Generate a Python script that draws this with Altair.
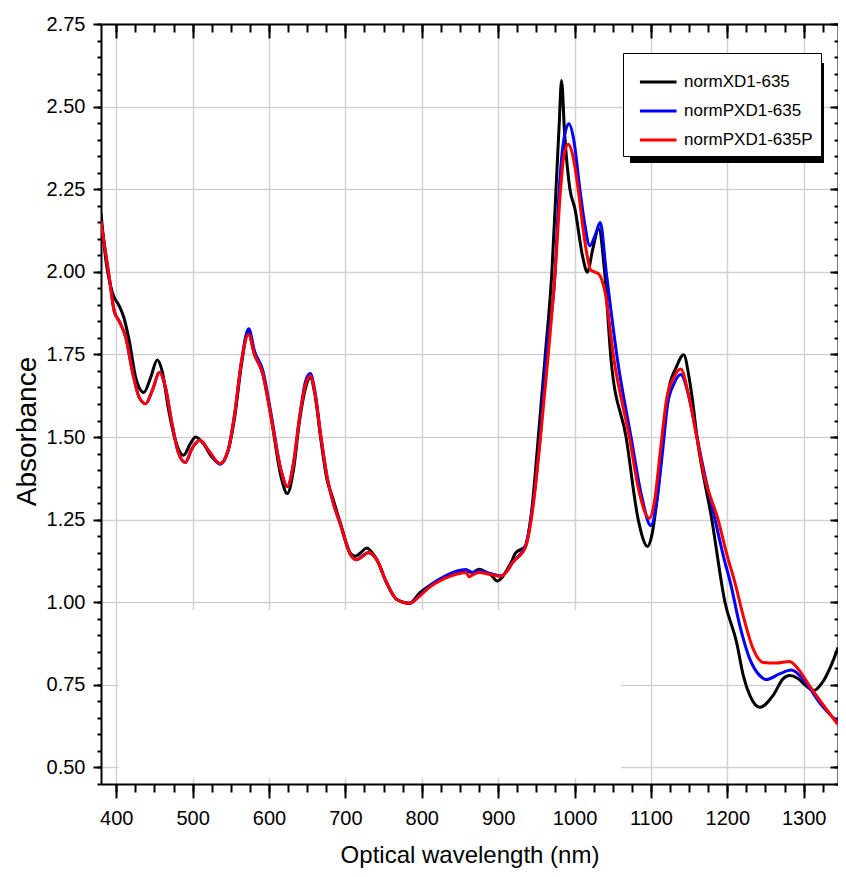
import altair as alt
import pandas as pd

names = ["normXD1-635", "normPXD1-635", "normPXD1-635P"]
colors = ["#000000", "#0000ff", "#ff0000"]

wl_black = [380, 386.6, 395, 404, 410, 417, 425.5, 436, 445, 453.6, 460, 468.7, 477.4, 488, 497, 504, 514, 525, 536,
            546.5, 555, 564, 572.5, 581, 592, 602.7, 615.7, 624, 632, 640, 648, 654, 660, 668, 676, 683, 693.5, 706.5,
            713, 720, 728, 735, 741, 754, 767, 784, 797, 810, 828, 845, 858, 866, 875, 885, 890, 899, 905, 912, 918,
            922.6, 935.6, 944, 952.6, 961.6, 970.2, 975.8, 980, 983, 987, 994, 1000.4, 1011, 1016.8, 1024, 1031.6,
            1039.4, 1048, 1067.5, 1083.6, 1095.6, 1101, 1108.5, 1117, 1124, 1133, 1143, 1150, 1154, 1160.4, 1179.8,
            1197, 1212.3, 1221, 1229.6, 1242.6, 1260, 1273, 1281.6, 1292, 1302.7, 1313.5, 1324.8, 1337.7, 1345]
ab_black = [2.177, 2.032, 1.936, 1.896, 1.861, 1.791, 1.68, 1.635, 1.68, 1.733, 1.70, 1.58, 1.49, 1.445, 1.48, 1.50,
            1.48, 1.44, 1.42, 1.46, 1.56, 1.72, 1.819, 1.75, 1.69, 1.56, 1.38, 1.329, 1.40, 1.55, 1.65, 1.68, 1.63,
            1.49, 1.37, 1.319, 1.239, 1.149, 1.139, 1.15, 1.164, 1.15, 1.13, 1.059, 1.009, 0.997, 1.028, 1.05, 1.074,
            1.09, 1.095, 1.09, 1.10, 1.09, 1.084, 1.064, 1.075, 1.10, 1.125, 1.149, 1.169, 1.278, 1.5, 1.746, 1.994,
            2.25, 2.45, 2.579, 2.42, 2.25, 2.192, 2.042, 1.999, 2.07, 2.13, 2.0, 1.73, 1.5, 1.248, 1.169, 1.2, 1.32,
            1.52, 1.65, 1.71, 1.749, 1.68, 1.62, 1.50, 1.25, 1.0, 0.878, 0.778, 0.718, 0.682, 0.718, 0.768, 0.778,
            0.77, 0.748, 0.733, 0.758, 0.818, 0.863]

wl_blue = [380, 391, 397.4, 404, 412.6, 421, 430, 438.5, 447, 456.7, 464.4, 473, 481.7, 490.4, 499, 509.8, 520.6, 536,
           546.5, 555, 564, 573.4, 581, 592, 602.7, 615.7, 624, 632, 640, 648, 654, 660, 668, 676, 683, 693.5, 706.5,
           715, 722, 730, 741, 754, 767, 784, 797, 810, 828, 845, 858, 866, 875, 890, 903, 912, 918.4, 935.6, 944,
           955, 963, 974.5, 980, 986, 992.7, 999, 1007, 1013, 1020, 1027, 1033.7, 1041.5, 1056.5, 1074, 1088, 1100,
           1108, 1115, 1122, 1130, 1139, 1150, 1160.4, 1172, 1184, 1196, 1204, 1216.6, 1229.6, 1242.6, 1251, 1268.4,
           1283.6, 1299, 1308, 1320.6, 1345]
ab_blue = [2.152, 1.98, 1.88, 1.85, 1.80, 1.70, 1.62, 1.601, 1.64, 1.695, 1.65, 1.54, 1.45, 1.423, 1.465, 1.49, 1.46,
           1.418, 1.46, 1.57, 1.73, 1.828, 1.76, 1.70, 1.57, 1.40, 1.35, 1.42, 1.56, 1.67, 1.692, 1.64, 1.50, 1.38,
           1.31, 1.235, 1.145, 1.129, 1.14, 1.15, 1.129, 1.059, 1.009, 0.997, 1.02, 1.049, 1.076, 1.094, 1.099, 1.09,
           1.095, 1.087, 1.08, 1.095, 1.119, 1.17, 1.27, 1.5, 1.746, 1.994, 2.25, 2.40, 2.448, 2.40, 2.25, 2.15,
           2.079, 2.11, 2.149, 2.0, 1.73, 1.5, 1.32, 1.232, 1.31, 1.45, 1.6, 1.66, 1.689, 1.62, 1.5, 1.37, 1.25, 1.13,
           1.06, 0.928, 0.828, 0.778, 0.766, 0.783, 0.795, 0.768, 0.74, 0.697, 0.637]

wl_red = [380, 391, 397.4, 404, 412.6, 421, 430, 438.5, 447, 456.7, 464.4, 473, 481.7, 490.4, 499, 509.8, 520.6, 536,
          546.5, 555, 564, 573.4, 581, 592, 602.7, 615.7, 624, 632, 640, 648, 654, 660, 668, 676, 683, 693.5, 706.5,
          715, 722, 730.3, 741, 754, 767, 784, 797, 810, 828, 845, 858, 862, 866, 875, 890, 903, 912, 918.4, 935.6,
          944, 955.5, 965.5, 974.5, 981.8, 986, 991.8, 998, 1004.8, 1013, 1021.3, 1031.6, 1039.4, 1052, 1071.8, 1085,
          1098, 1105, 1112, 1121, 1130, 1139, 1150, 1160, 1170, 1188, 1200, 1210, 1221, 1234, 1247, 1264, 1281.6,
          1294.5, 1307.5, 1345]
ab_red = [2.152, 1.98, 1.88, 1.85, 1.80, 1.70, 1.62, 1.601, 1.64, 1.695, 1.65, 1.54, 1.45, 1.423, 1.465, 1.49, 1.46,
          1.42, 1.46, 1.57, 1.73, 1.81, 1.75, 1.69, 1.56, 1.40, 1.35, 1.42, 1.56, 1.66, 1.685, 1.635, 1.50, 1.38,
          1.31, 1.235, 1.145, 1.129, 1.138, 1.151, 1.129, 1.059, 1.009, 0.997, 1.018, 1.045, 1.07, 1.085, 1.09,
          1.077, 1.082, 1.09, 1.084, 1.079, 1.095, 1.119, 1.165, 1.26, 1.5, 1.746, 1.994, 2.25, 2.35, 2.386, 2.35,
          2.25, 2.10, 2.005, 1.994, 1.945, 1.73, 1.5, 1.33, 1.254, 1.31, 1.45, 1.62, 1.68, 1.706, 1.62, 1.5, 1.38,
          1.25, 1.14, 1.06, 0.958, 0.858, 0.818, 0.816, 0.821, 0.793, 0.748, 0.630]

x_major = [400, 500, 600, 700, 800, 900, 1000, 1100, 1200, 1300]
x_minor = [400 + 25 * i for i in range(38)]
y_major = [0.50, 0.75, 1.00, 1.25, 1.50, 1.75, 2.00, 2.25, 2.50, 2.75]
y_minor = [round(0.45 + 0.05 * i, 2) for i in range(47)]

frames = []
for n, w, a in [(names[0], wl_black, ab_black), (names[1], wl_blue, ab_blue), (names[2], wl_red, ab_red)]:
    frames.append(pd.DataFrame({"series": n, "wl": w, "ab": a}))
df = pd.concat(frames, ignore_index=True)

W, H = 737, 760
SANS = "Liberation Sans, Arial, Helvetica"

xs = alt.Scale(domain=[380, 1345], nice=False, zero=False)
ys = alt.Scale(domain=[0.45, 2.75], nice=False, zero=False)

common = dict(domainColor="black", domainWidth=2, tickColor="black", tickWidth=2)

x_main = alt.Axis(orient="bottom", values=x_major, format="d", tickSize=14, labelFont=SANS, labelFontSize=20,
                  labelColor="black", labelPadding=10, labelOverlap=False, labelFlush=False,
                  grid=True, gridColor="#d2d2d2", gridWidth=1.5,
                  title="Optical wavelength (nm)", titleFont=SANS, titleFontSize=24, titleFontWeight="normal",
                  titleColor="black", titleY=78, titleBaseline="alphabetic", **common)
y_main = alt.Axis(orient="left", values=y_major, format=".2f", tickSize=8, labelFont=SANS, labelFontSize=20,
                  labelColor="black", labelPadding=8, labelOverlap=False, labelFlush=False,
                  grid=True, gridColor="#d2d2d2", gridWidth=1.5,
                  title="Absorbance", titleFont=SANS, titleFontSize=28, titleFontWeight="normal",
                  titleColor="black", titleX=-74, titleY=407, titleAngle=270, titleAlign="center",
                  titleBaseline="middle", **common)

legend = alt.Legend(orient="none", legendX=522, legendY=29, title=" ", titleFontSize=6, titlePadding=0,
                    strokeColor="black", fillColor="white",
                    padding=8, symbolType="M-0.45,0L2.26,0", symbolSize=729, symbolStrokeWidth=3,
                    labelFont=SANS, labelFontSize=17, labelColor="black", labelOffset=23, rowPadding=6,
                    labelLimit=300)

lines = alt.Chart(df).mark_line(strokeWidth=3, interpolate="monotone", clip=True).encode(
    x=alt.X("wl:Q", scale=xs, axis=x_main),
    y=alt.Y("ab:Q", scale=ys, axis=y_main),
    color=alt.Color("series:N", scale=alt.Scale(domain=names, range=colors), legend=legend),
)


def axis_layer(xaxis, yaxis):
    return alt.Chart(df).mark_point(opacity=0).encode(
        x=alt.X("wl:Q", scale=xs, axis=xaxis),
        y=alt.Y("ab:Q", scale=ys, axis=yaxis),
    )


nol = dict(labels=False, title=None, grid=False)
minor_bl = axis_layer(
    alt.Axis(orient="bottom", values=x_minor, tickSize=8, domain=False, **nol, **common),
    alt.Axis(orient="left", values=y_minor, tickSize=4, domain=False, **nol, **common),
)
major_tr = axis_layer(
    alt.Axis(orient="bottom", offset=-H, values=x_major, tickSize=14, **nol, **common),
    alt.Axis(orient="left", offset=-W, values=y_major, tickSize=8, **nol, **common),
)
minor_tr = axis_layer(
    alt.Axis(orient="bottom", offset=-H, values=x_minor, tickSize=8, domain=False, **nol, **common),
    alt.Axis(orient="left", offset=-W, values=y_minor, tickSize=4, domain=False, **nol, **common),
)

one = pd.DataFrame({"k": [0]})
# white patch that hides the grid in the lower-left part of the original figure
mask = alt.Chart(one).mark_rect(color="white").encode(
    x=alt.value(18), x2=alt.value(520), y=alt.value(586), y2=alt.value(754)
)
shadow = alt.Chart(one).mark_rect(color="black").encode(
    x=alt.value(529), x2=alt.value(723), y=alt.value(39), y2=alt.value(139)
)

chart = alt.layer(minor_bl, major_tr, minor_tr, mask, lines, shadow).resolve_axis(
    x="independent", y="independent"
).properties(
    width=W, height=H,
    padding={"left": 93, "top": 16, "right": 0, "bottom": 84},
    autosize=alt.AutoSizeParams(type="none"),
).configure_view(stroke=None)

chart.save("out.html", embed_options={"renderer": "svg", "actions": False})
